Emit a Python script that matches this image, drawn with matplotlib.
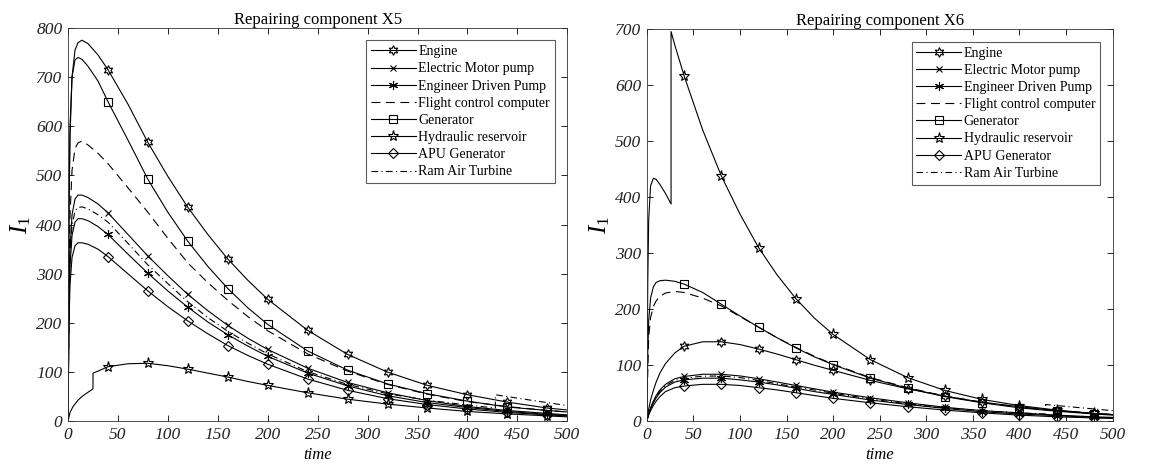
import numpy as np
import matplotlib
matplotlib.use('Agg')
import matplotlib.pyplot as plt

# common time grid
t = [0, 1, 2, 4, 7, 10, 14, 20, 30, 40, 60, 80, 100, 120, 140, 160, 180, 200,
     240, 280, 320, 360, 400, 440, 480, 500]
t_rat = [0, 1, 2, 4, 7, 10, 14, 20, 30, 40, 60, 80, 100, 120, 140, 160, 180, 200,
         240, 280, 320, 360, 400, 428, 428, 460, 500]
t_hyd5 = [0, 2, 5, 10, 15, 20, 25, 25, 30, 40, 60, 80, 100, 120, 140, 160, 180, 200,
          240, 280, 320, 360, 400, 440, 480, 500]
t_hyd6 = [0, 1, 2, 4, 7, 10, 14, 20, 26, 26, 30, 40, 60, 80, 100, 120, 140, 160, 180, 200,
          240, 280, 320, 360, 400, 440, 480, 500]
marker_times = [40, 80, 120, 160, 200, 240, 280, 320, 360, 400, 440, 480]

# Repairing component X5
x5_engine = [0, 430, 580, 700, 755, 770, 775, 768, 745, 715, 645, 567, 498, 435, 380, 330, 287, 248,
             185, 136, 100, 73, 54, 39, 27, 23]
x5_emp = [0, 260, 350, 420, 452, 460, 460, 455, 442, 424, 380, 336, 296, 258, 225, 195, 169, 146,
          108, 79, 58, 42, 30, 22, 16, 13]
x5_edp = [0, 235, 315, 378, 405, 412, 412, 408, 396, 380, 340, 301, 265, 232, 202, 176, 153, 132,
          98, 72, 52, 38, 28, 20, 14, 12]
x5_fcc = [0, 300, 420, 510, 555, 566, 570, 562, 545, 524, 475, 425, 372, 322, 282, 246, 213, 184,
          137, 102, 75, 55, 40, 30, 22, 19]
x5_gen = [0, 450, 600, 700, 735, 740, 736, 722, 692, 650, 572, 492, 425, 366, 315, 270, 231, 197,
          143, 104, 76, 56, 41, 29, 22, 19]
x5_hyd = [0, 18, 30, 43, 52, 59, 66, 98, 102, 111, 117, 118, 113, 106, 98, 90, 81, 73,
          58, 45, 35, 27, 20, 15, 11, 9]
x5_apu = [0, 205, 278, 333, 357, 363, 363, 360, 350, 335, 300, 265, 233, 204, 178, 154, 134, 116,
          86, 63, 46, 34, 25, 18, 13, 11]
x5_rat = [0, 245, 330, 397, 428, 435, 436, 432, 420, 405, 362, 318, 280, 243, 211, 183, 159, 137,
          101, 75, 56, 43, 33, 27, 54, 44, 32]

# Repairing component X6
x6_engine = [0, 12, 22, 38, 55, 70, 86, 103, 122, 134, 142, 142, 137, 129, 120, 110, 100, 91,
             73, 58, 45, 34, 26, 19, 14, 12]
x6_emp = [0, 8, 14, 24, 36, 46, 56, 66, 76, 80, 84, 84, 81, 76, 70, 64, 58, 52,
          42, 33, 25, 19, 15, 11, 8, 7]
x6_edp = [0, 7, 13, 22, 33, 42, 51, 61, 70, 74, 77, 77, 74, 70, 65, 59, 53, 48,
          38, 30, 23, 17, 13, 10, 7, 6]
x6_fcc = [0, 90, 150, 185, 205, 215, 223, 229, 232, 230, 220, 206, 187, 168, 149, 132, 116, 102,
          78, 60, 45, 34, 25, 19, 14, 12]
x6_gen = [0, 120, 180, 220, 240, 248, 251, 252, 250, 245, 230, 209, 188, 168, 149, 131, 115, 101,
          77, 59, 44, 33, 24, 18, 13, 11]
x6_hyd = [0, 250, 360, 420, 434, 432, 423, 407, 388, 696, 672, 617, 520, 438, 370, 310, 261, 219,
          184, 155, 110, 78, 55, 39, 28, 20, 14, 12]
x6_apu = [0, 6, 11, 19, 28, 36, 44, 53, 60, 63, 66, 66, 64, 60, 56, 51, 46, 41,
          33, 26, 20, 15, 11, 8, 6, 5]
x6_rat = [0, 7.5, 13.5, 23, 34.5, 44, 53.5, 63.5, 73, 77, 80.5, 81, 78, 73, 67, 61, 56, 50,
          40, 31, 24, 19, 15, 13, 30, 25, 19]

labels = ["Engine", "Electric Motor pump", "Engineer Driven Pump", "Flight control computer",
          "Generator", "Hydraulic reservoir", "APU Generator", "Ram Air Turbine"]

plt.rcParams['font.family'] = ['Liberation Serif', 'DejaVu Serif']
plt.rcParams['mathtext.fontset'] = 'custom'
plt.rcParams['mathtext.rm'] = 'Liberation Serif'
plt.rcParams['mathtext.it'] = 'Liberation Serif:italic'

hexagram = (6, 1, 0)
styles = [
    dict(ls='-', marker=hexagram, ms=7),
    dict(ls='-', marker='x', ms=4.5),
    dict(ls='-', marker=(6, 2, 0), ms=6.5),
    dict(ls=(0, (8, 5)), marker=None, ms=0),
    dict(ls='-', marker='s', ms=6),
    dict(ls='-', marker='*', ms=8),
    dict(ls='-', marker='D', ms=5.5),
    dict(ls=(0, (6, 3, 1, 3)), marker=None, ms=0),
]

fig = plt.figure(figsize=(11.53, 4.65), dpi=100)
ax1 = fig.add_axes([0.059, 0.094, 0.433, 0.846])
ax2 = fig.add_axes([0.561, 0.094, 0.404, 0.843])

panels = [
    (ax1, "Repairing component X5", 800,
     [(t, x5_engine), (t, x5_emp), (t, x5_edp), (t, x5_fcc), (t, x5_gen),
      (t_hyd5, x5_hyd), (t, x5_apu), (t_rat, x5_rat)]),
    (ax2, "Repairing component X6", 700,
     [(t, x6_engine), (t, x6_emp), (t, x6_edp), (t, x6_fcc), (t, x6_gen),
      (t_hyd6, x6_hyd), (t, x6_apu), (t_rat, x6_rat)]),
]

for ax, title, ymax, series in panels:
    for (tt, yy), lab, st in zip(series, labels, styles):
        idx = [i for i, v in enumerate(tt) if v in marker_times]
        ax.plot(tt, yy, color='black', lw=0.8, linestyle=st['ls'], marker=st['marker'],
                markevery=idx if st['marker'] else None, markersize=st['ms'],
                markerfacecolor='none', markeredgecolor='black', markeredgewidth=0.8,
                label=lab)
    ax.set_xlim(0, 500)
    ax.set_ylim(0, ymax)
    ax.set_xticks(range(0, 501, 50))
    ax.set_yticks(range(0, ymax + 1, 100))
    ax.tick_params(direction='in', top=True, right=True, length=4, width=0.6,
                   labelsize=12.5, pad=4)
    for lab in ax.get_xticklabels() + ax.get_yticklabels():
        lab.set_fontstyle('italic')
        lab.set_color('#222222')
    for sp in ax.spines.values():
        sp.set_linewidth(0.6)
        sp.set_color('#333333')
    ax.set_title(title, fontsize=12, pad=3)
    ax.set_xlabel('time', fontsize=12, style='italic', labelpad=3)
    ax.set_ylabel(r'$\mathit{I}_{\mathit{1}}$', fontsize=18, labelpad=2)
    leg = ax.legend(loc='upper right', fontsize=10, numpoints=1, handlelength=3.2,
                    labelspacing=0.3, handletextpad=0.2, borderpad=0.35,
                    fancybox=False, edgecolor='#333333', borderaxespad=0.9)
    leg.get_frame().set_linewidth(0.8)

fig.savefig('out.png', dpi=100)
